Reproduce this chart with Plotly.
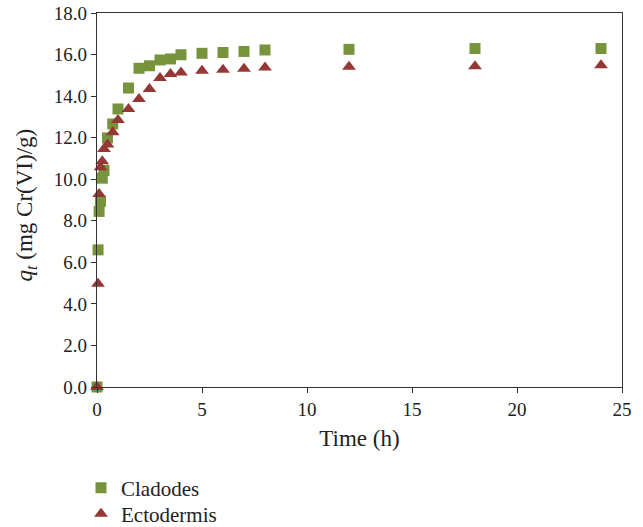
import plotly.graph_objects as go

time_clad = [0, 0.05, 0.1, 0.167, 0.25, 0.333, 0.5, 0.75, 1, 1.5, 2, 2.5, 3, 3.5, 4, 5, 6, 7, 8, 12, 18, 24]
q_clad = [0, 6.60, 8.45, 8.94, 10.05, 10.42, 11.99, 12.66, 13.38, 14.39, 15.34, 15.46, 15.74, 15.79, 15.99,
          16.06, 16.10, 16.15, 16.22, 16.25, 16.29, 16.29]

time_ecto = [0, 0.05, 0.1, 0.167, 0.25, 0.333, 0.5, 0.75, 1, 1.5, 2, 2.5, 3, 3.5, 4, 5, 6, 7, 8, 12, 18, 24]
q_ecto = [0, 4.97, 9.29, 10.58, 10.87, 11.46, 11.67, 12.26, 12.85, 13.38, 13.86, 14.34, 14.87, 15.06, 15.14,
          15.22, 15.27, 15.32, 15.38, 15.41, 15.44, 15.48]

x_title = "Time (h)"
y_title = "<i>q<sub>t</sub></i> (mg Cr(VI)/g)"

FONT = "Liberation Serif"
GREEN = "#77933C"
RED = "#953735"

fig = go.Figure()
fig.add_trace(go.Scatter(x=time_clad, y=q_clad, mode="markers", name="Cladodes", legend="legend",
                         cliponaxis=False,
                         marker=dict(symbol="square", size=11, color=GREEN)))
fig.add_trace(go.Scatter(x=time_ecto, y=q_ecto, mode="markers", name="Ectodermis", legend="legend2",
                         cliponaxis=False,
                         marker=dict(symbol="triangle-up", size=12, color=RED)))

leg_common = dict(xref="container", yref="container", xanchor="left", yanchor="middle",
                  font=dict(family=FONT, size=21, color="#222"), bgcolor="rgba(0,0,0,0)")

fig.update_layout(
    width=643, height=527,
    margin=dict(l=97, r=21, t=13, b=140, autoexpand=False),
    plot_bgcolor="white", paper_bgcolor="white",
    font=dict(family=FONT, size=19, color="#222"),
    showlegend=True,
    legend=dict(x=81 / 643, y=1 - 488 / 527, **leg_common),
    legend2=dict(x=81 / 643, y=1 - 514 / 527, **leg_common),
    xaxis=dict(range=[0, 25], dtick=5, showgrid=False, zeroline=False, automargin=False,
               showline=True, linecolor="#333", linewidth=1.3, mirror=True,
               ticks="outside", ticklen=5, tickcolor="#333",
               title=dict(text=x_title, font=dict(family=FONT, size=23), standoff=10),
               tickfont=dict(family=FONT, size=19)),
    yaxis=dict(range=[0, 18], dtick=2, tickformat=".1f", showgrid=False, zeroline=False, automargin=False,
               showline=True, linecolor="#333", linewidth=1.3, mirror=True,
               ticks="outside", ticklen=5, tickcolor="#333",
               tickfont=dict(family=FONT, size=19)),
    annotations=[dict(text=y_title, xref="paper", yref="paper", x=-0.136, y=0.487,
                      xanchor="center", yanchor="middle", textangle=-90, showarrow=False,
                      font=dict(family=FONT, size=23, color="#222"))],
)

fig.write_html("out.html", config={"displayModeBar": False},
               post_script="document.body.style.margin='0';")
